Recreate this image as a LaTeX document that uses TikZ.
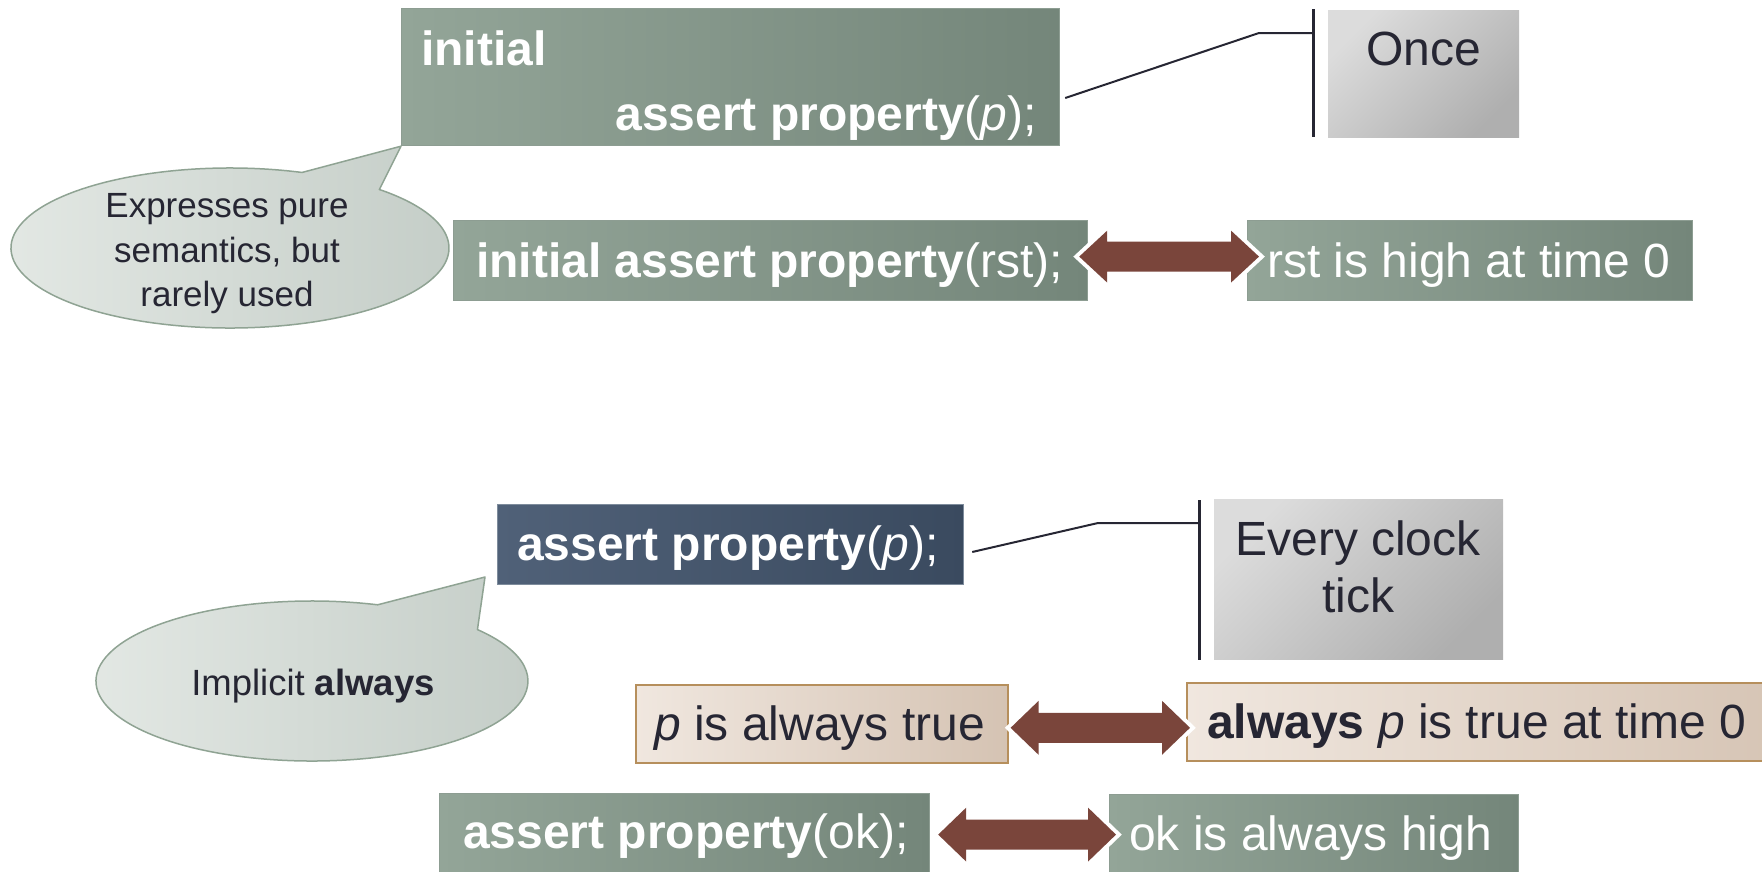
\documentclass[tikz,border=0pt]{standalone}
\usepackage{fontspec}
\setmainfont{Liberation Sans}
\usetikzlibrary{calc}

\definecolor{greenL}{HTML}{93A598}
\definecolor{greenR}{HTML}{74867A}
\definecolor{greenE}{HTML}{8D9D92}
\definecolor{slateL}{HTML}{506178}
\definecolor{slateR}{HTML}{3A4A5F}
\definecolor{slateE}{HTML}{7E8C9C}
\definecolor{tanL}{HTML}{F0E7DF}
\definecolor{tanR}{HTML}{D5C3B3}
\definecolor{tanE}{HTML}{B68F5C}
\definecolor{grayTL}{HTML}{DCDCDC}
\definecolor{grayBR}{HTML}{AFAFAF}
\definecolor{bubL}{HTML}{E4E9E5}
\definecolor{bubR}{HTML}{C4CDC7}
\definecolor{bubE}{HTML}{8FA393}
\definecolor{ink}{HTML}{262633}
\definecolor{brownA}{HTML}{7A453B}

\pgfdeclarehorizontalshading{greyshade}{100bp}{color(0bp)=(grayTL); color(25bp)=(grayTL); color(75bp)=(grayBR); color(100bp)=(grayBR)}

\tikzset{
  basebox/.style={anchor=north west, inner sep=0pt, line width=1.2pt},
  greenbox/.style={basebox, draw=greenE, left color=greenL, right color=greenR},
  slatebox/.style={basebox, draw=slateE, left color=slateL, right color=slateR},
  tanbox/.style={basebox, draw=tanE, line width=1.6pt, left color=tanL, right color=tanR},
  greybox/.style={anchor=north west, inner sep=0pt, shading=greyshade, shading angle=-45},
  big/.style={inner sep=0pt, font=\fontsize{48}{57}\selectfont},
  wtxt/.style={big, text=white},
  dtxt/.style={big, text=ink},
  bubble/.style={draw=bubE, line width=1.5pt, left color=bubL, right color=bubR, line join=round},
  conn/.style={draw=ink, line width=2pt},
  bar/.style={draw=ink, line width=3pt},
  dblarrow/.style={fill=brownA, line join=miter,
    preaction={draw=white, line width=8pt, line join=miter}},
}

% double-headed block arrow between two tips: head length 28, shaft half-height 15,
% head half-height given as the third argument
\newcommand\blockarrow[3]{%
  \path[dblarrow] (#1) -- ++(28,-#3) -- ++(0,#3-15)
    -- ($(#2)+(-28,-15)$) -- ++(0,15-#3) -- (#2) -- ++(-28,#3)
    -- ++(0,15-#3) -- ($(#1)+(28,15)$) -- ++(0,#3-15) -- cycle;}

\begin{document}
\begin{tikzpicture}[x=1pt, y=-1pt]
\useasboundingbox (0,0) rectangle (1762,871);
\clip (0,0) rectangle (1762,871);

% ---------- initial assertion ----------
\node[greenbox, minimum width=658pt, minimum height=137pt] (A) at (401,8) {};
\node[wtxt, anchor=base west] (Aone) at (421,65) {\bfseries initial};
\node[wtxt, anchor=base east] (Atwo) at (1037,130) {\bfseries assert property\mdseries(\textit{p});};

\node[greybox, minimum width=191pt, minimum height=127pt] (once) at (1328,10) {};
\node[dtxt, anchor=base] (oncetxt) at (1424,65) {Once};
\coordinate (barAtop) at (1313,9);
\coordinate (barAbot) at (1313,137);
\draw[bar] (barAtop) -- (barAbot);
\coordinate (cAstart) at ($(A.north east)+(5,90)$);
\coordinate (cAknee) at (1259,33);
\draw[conn] (cAstart) -- (cAknee) -- (cAknee -| barAtop);

% speech bubble of the initial assertion
\coordinate (bubAc) at (230,248);
\path[bubble] (bubAc) ++(-70.8:219 and 80)
  arc[start angle=-70.8, end angle=-407, x radius=219, y radius=80]
  -- (A.south west) -- cycle;
\node[inner sep=0pt, align=center, text=ink, font=\fontsize{35}{44.5}\selectfont] (bubAtxt) at (227,254)
  {Expresses pure\\semantics, but\\rarely used};

\node[greenbox, minimum width=634pt, minimum height=80pt] (B) at (453,220) {};
\node[wtxt, anchor=base west] (Btxt) at (476,277) {\bfseries initial assert property\mdseries(rst);};
\node[greenbox, minimum width=445pt, minimum height=80pt] (C) at (1247,220) {};
\node[wtxt, anchor=base west] (Ctxt) at (1267,277) {rst is high at time 0};
\blockarrow{$(B.east)+(-9,-4)$}{$(C.west)+(12,-4)$}{26}

% ---------- plain assertion ----------
\node[slatebox, minimum width=466pt, minimum height=80pt] (D) at (497,504) {};
\node[wtxt, anchor=base west] (Dtxt) at (517,560) {\bfseries assert property\mdseries(\textit{p});};

\node[greybox, minimum width=289pt, minimum height=160pt] (tick) at (1214,499) {};
\node[dtxt, align=center] (ticktxt) at (1358,567) {Every clock\\tick};
\coordinate (barDtop) at (1199,500);
\coordinate (barDbot) at (1199,660);
\draw[bar] (barDtop) -- (barDbot);
\coordinate (cDstart) at ($(D.north east)+(8,48)$);
\coordinate (cDknee) at (1098,523);
\draw[conn] (cDstart) -- (cDknee) -- (cDknee -| barDtop);

% speech bubble of the plain assertion
\coordinate (bubDc) at (312,681);
\coordinate (bubDtip) at (485,577);
\path[bubble] (bubDc) ++(-72.3:216 and 80)
  arc[start angle=-72.3, end angle=-400, x radius=216, y radius=80]
  -- (bubDtip) -- cycle;
\node[inner sep=0pt, anchor=base, text=ink, font=\fontsize{36.5}{44}\selectfont] (bubDtxt) at (313,695)
  {Implicit \textbf{always}};

\node[tanbox, minimum width=372pt, minimum height=78pt] (E) at (635,684) {};
\node[dtxt, anchor=base west] (Etxt) at (654,740) {\textit{p} is always true};
\node[tanbox, minimum width=620pt, minimum height=78pt] (F) at (1186,682) {};
\node[dtxt, anchor=base west] (Ftxt) at (1207,738) {\textbf{always} \textit{p} is true at time 0};
\blockarrow{$(E.east)+(2,4)$}{$(F.west)+(4,6)$}{27}

\node[greenbox, minimum width=490pt, minimum height=90pt] (G) at (439,793) {};
\node[wtxt, anchor=base west] (Gtxt) at (463,848) {\bfseries assert property\mdseries(ok);};
\node[greenbox, minimum width=409pt, minimum height=90pt] (H) at (1109,794) {};
\node[wtxt, anchor=base west] (Htxt) at (1129,850) {ok is always high};
\blockarrow{$(G.east)+(8,-4)$}{$(H.west)+(7,-5)$}{27}
\end{tikzpicture}
\end{document}
